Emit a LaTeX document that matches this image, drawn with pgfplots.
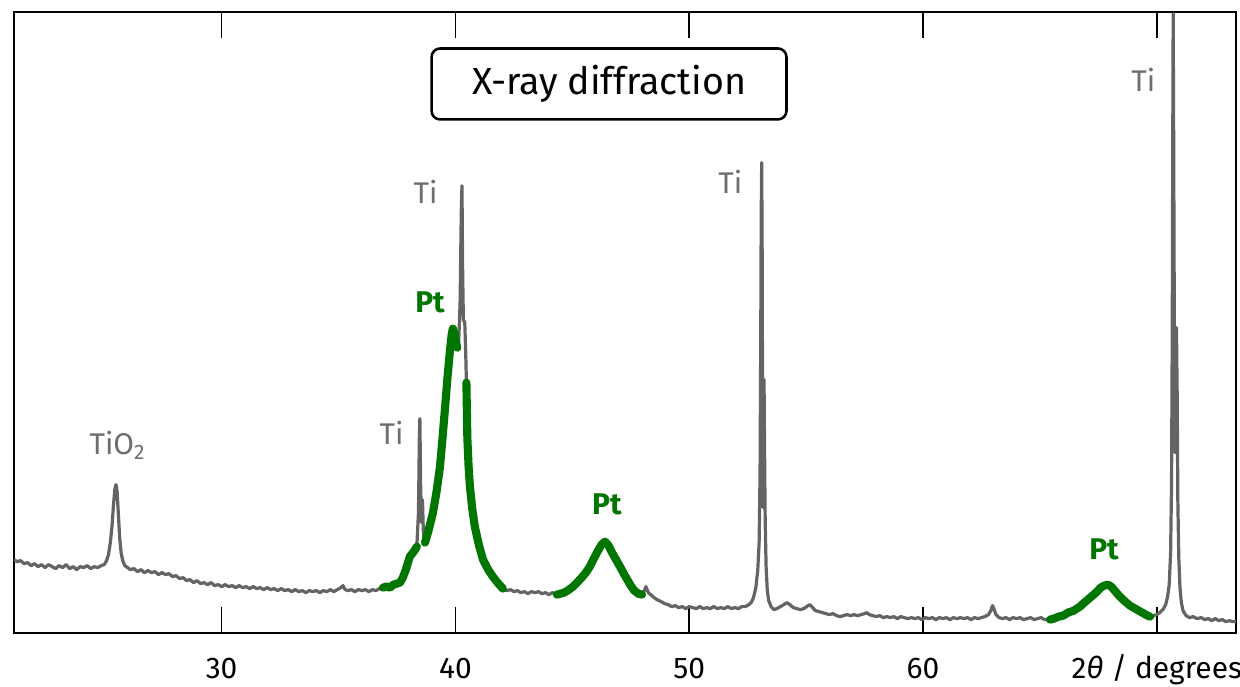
\documentclass[border=0pt]{standalone}
\usepackage{pgfplots}
\pgfplotsset{compat=1.18}
\usepackage{fontspec}
\setmainfont{Fira Sans}
\definecolor{xgray}{RGB}{100,100,100}
\definecolor{tgray}{RGB}{110,110,110}
\definecolor{xgreen}{RGB}{0,118,0}
\begin{document}
\begin{tikzpicture}
\useasboundingbox (0,0) rectangle (580pt,321.3pt);
\begin{axis}[
 at={(6.55pt,25.4pt)}, anchor=south west,
 scale only axis, width=571.5pt, height=290.3pt,
 xmin=21.12, xmax=73.38, ymin=0, ymax=620.7,
 xtick={30,40,50,60,70},
 xticklabels={30,40,50,60,{2\textit{θ} / degrees}},
 ytick=\empty,
 tick align=inside, xtick pos=both, xticklabel pos=bottom,
 major tick length=12pt,
 every tick/.style={black, line width=0.8pt},
 axis line style={line width=1pt},
 xticklabel style={font=\fontsize{14}{16}\selectfont, text height=9.6pt, text depth=0pt, anchor=north, yshift=-8.5pt},
 /pgf/number format/assume math mode=true,
]
\addplot[xgray, line width=1.5pt, line join=round] coordinates {
(21.12,73) (21.25,71) (21.40,72) (21.55,69) (21.70,70) (21.85,67) (22.00,69) (22.15,66) (22.30,68) (22.45,65)
(22.60,68) (22.75,66) (22.90,64) (23.05,67) (23.20,65) (23.35,68) (23.50,64) (23.65,66) (23.80,63) (23.95,66)
(24.10,65) (24.25,67) (24.40,64) (24.55,66) (24.70,65) (24.85,67) (24.98,68) (25.08,72) (25.16,78) (25.24,90)
(25.31,106) (25.37,126) (25.43,143) (25.48,148) (25.53,141) (25.58,120) (25.64,95) (25.70,80) (25.77,72) (25.86,67)
(25.98,65) (26.10,63) (26.25,64) (26.40,61) (26.55,63) (26.70,60) (26.85,62) (27.00,60) (27.15,61) (27.30,58)
(27.45,60) (27.60,58) (27.75,59) (27.90,56) (28.05,57) (28.20,54) (28.35,55) (28.50,52) (28.65,53) (28.80,50)
(28.95,52) (29.10,49) (29.25,50) (29.40,48) (29.55,50) (29.70,47) (29.85,48) (30.00,46) (30.15,48) (30.30,46)
(30.45,47) (30.60,45) (30.75,47) (30.90,45) (31.05,46) (31.20,44) (31.35,46) (31.50,44) (31.65,45) (31.80,43)
(31.95,45) (32.10,43) (32.25,44) (32.40,42) (32.55,44) (32.70,42) (32.85,43) (33.00,41) (33.15,43) (33.30,41)
(33.45,42) (33.60,40) (33.75,42) (33.90,41) (34.05,42) (34.20,40) (34.35,42) (34.50,41) (34.65,43) (34.80,41)
(34.95,43) (35.10,45) (35.19,47) (35.28,43) (35.40,42) (35.55,43) (35.70,41) (35.85,43) (36.00,42) (36.15,43)
(36.30,41) (36.45,43) (36.60,42) (36.75,44) (36.90,45) (37.05,46) (37.20,45) (37.35,48) (37.50,49) (37.63,50)
(37.75,55) (37.88,63) (37.97,70) (38.05,76) (38.15,79) (38.25,82) (38.35,86) (38.42,120) (38.46,200) (38.48,214)
(38.51,150) (38.55,110) (38.59,133) (38.63,100) (38.70,90) (38.85,102) (39.04,120) (39.20,142) (39.34,166) (39.45,195)
(39.55,223) (39.66,255) (39.77,283) (39.84,298) (39.89,304) (39.95,300) (40.02,290) (40.08,285) (40.14,290) (40.20,330)
(40.25,420) (40.28,447) (40.31,360) (40.34,313) (40.40,310) (40.44,280) (40.47,250) (40.51,195) (40.56,168) (40.62,146)
(40.72,124) (40.83,106) (41.00,88) (41.18,73) (41.40,63) (41.60,56) (41.80,50) (42.03,44) (42.20,42) (42.35,43)
(42.50,41) (42.65,42) (42.80,40) (42.95,41) (43.10,39) (43.25,41) (43.40,40) (43.55,41) (43.70,39) (43.85,40)
(44.00,38) (44.15,40) (44.34,38) (44.50,39) (44.65,40) (44.80,42) (45.03,46) (45.20,50) (45.40,55) (45.58,60)
(45.75,66) (45.92,74) (46.10,82) (46.25,88) (46.40,91) (46.55,87) (46.70,80) (46.87,73) (47.04,66) (47.20,59)
(47.35,53) (47.50,47) (47.65,42) (47.82,39) (47.98,38) (48.08,42) (48.15,46) (48.25,40) (48.35,38) (48.50,35)
(48.62,33) (48.80,31) (48.95,29) (49.10,28) (49.25,26) (49.40,27) (49.55,25) (49.70,26) (49.85,24) (50.00,26)
(50.15,25) (50.30,24) (50.45,26) (50.60,24) (50.76,25) (50.90,24) (51.05,26) (51.20,24) (51.35,25) (51.50,24)
(51.65,26) (51.80,24) (51.95,25) (52.10,24) (52.25,26) (52.40,26) (52.55,28) (52.65,30) (52.75,35) (52.85,45)
(52.93,62) (52.99,90) (53.03,160) (53.06,300) (53.08,420) (53.10,470) (53.12,380) (53.14,200) (53.16,125) (53.18,180)
(53.20,253) (53.22,190) (53.25,110) (53.29,65) (53.34,42) (53.40,32) (53.50,26) (53.62,23) (53.75,24) (53.90,26)
(54.05,28) (54.18,30) (54.30,28) (54.45,25) (54.60,24) (54.75,23) (54.90,24) (55.02,26) (55.16,28) (55.28,25)
(55.40,22) (55.55,21) (55.70,20) (55.85,19) (56.00,18) (56.15,19) (56.30,17) (56.45,16) (56.60,17) (56.75,18)
(56.90,17) (57.05,18) (57.20,17) (57.35,18) (57.50,19) (57.60,20) (57.70,18) (57.85,17) (58.00,16) (58.15,17)
(58.30,15) (58.45,16) (58.60,15) (58.75,16) (58.90,14) (59.05,16) (59.20,15) (59.35,14) (59.50,15) (59.65,14)
(59.80,15) (59.95,13) (60.10,15) (60.25,14) (60.40,15) (60.55,13) (60.70,15) (60.85,14) (61.00,15) (61.15,13)
(61.30,15) (61.45,14) (61.60,15) (61.75,14) (61.90,15) (62.05,13) (62.20,15) (62.35,14) (62.50,15) (62.65,16)
(62.80,18) (62.90,22) (62.97,27) (63.03,24) (63.12,18) (63.25,15) (63.40,14) (63.55,15) (63.70,13) (63.85,15)
(64.00,14) (64.15,15) (64.30,13) (64.45,14) (64.60,15) (64.75,13) (64.90,14) (65.05,15) (65.20,13) (65.43,13)
(65.60,14) (65.80,16) (66.00,17) (66.20,20) (66.45,22) (66.71,26) (66.90,30) (67.10,34) (67.30,38) (67.44,41)
(67.60,45) (67.75,47) (67.91,48) (68.05,46) (68.20,42) (68.38,37) (68.55,33) (68.70,30) (68.85,27) (69.00,25)
(69.15,23) (69.30,21) (69.45,19) (69.60,17) (69.71,16) (69.85,17) (70.00,18) (70.12,20) (70.26,23) (70.38,28)
(70.46,36) (70.53,48) (70.59,80) (70.63,150) (70.66,300) (70.68,480) (70.70,619) (70.72,500) (70.75,300) (70.78,180)
(70.81,200) (70.84,305) (70.87,240) (70.90,130) (70.94,75) (70.99,45) (71.05,30) (71.12,22) (71.25,17) (71.40,15)
(71.55,16) (71.72,14) (71.90,15) (72.05,13) (72.20,14) (72.35,12) (72.50,14) (72.65,12) (72.80,13) (72.95,11)
(73.10,12) (73.25,11) (73.38,11)
};
\pgfplotsset{pt/.style={xgreen, line width=3.8pt, line cap=round, line join=round}}
\addplot[pt] coordinates {
(36.90,45) (37.05,46) (37.20,45) (37.35,48) (37.50,49) (37.63,50) (37.75,55) (37.88,63) (37.97,70) (38.05,76)
(38.15,79) (38.25,82) (38.35,86)
};
\addplot[pt] coordinates {
(38.70,90) (38.85,102) (39.04,120) (39.20,142) (39.34,166) (39.45,195) (39.55,223) (39.66,255) (39.77,283) (39.84,298)
(39.89,304) (39.95,300) (40.02,290) (40.08,285)
};
\addplot[pt] coordinates {
(40.47,250) (40.51,195) (40.56,168) (40.62,146) (40.72,124) (40.83,106) (41.00,88) (41.18,73) (41.40,63) (41.60,56)
(41.80,50) (42.03,44)
};
\addplot[pt] coordinates {
(44.34,38) (44.50,39) (44.65,40) (44.80,42) (45.03,46) (45.20,50) (45.40,55) (45.58,60) (45.75,66) (45.92,74)
(46.10,82) (46.25,88) (46.40,91) (46.55,87) (46.70,80) (46.87,73) (47.04,66) (47.20,59) (47.35,53) (47.50,47)
(47.65,42) (47.82,39) (47.98,38)
};
\addplot[pt] coordinates {
(65.43,13) (65.60,14) (65.80,16) (66.00,17) (66.20,20) (66.45,22) (66.71,26) (66.90,30) (67.10,34) (67.30,38)
(67.44,41) (67.60,45) (67.75,47) (67.91,48) (68.05,46) (68.20,42) (68.38,37) (68.55,33) (68.70,30) (68.85,27)
(69.00,25) (69.15,23) (69.30,21) (69.45,19) (69.60,17) (69.71,16)
};
\tikzset{ti/.style={text=tgray, font=\fontsize{14}{16}\selectfont, anchor=base, inner sep=0pt},
         ptl/.style={text=xgreen, font=\fontsize{14}{16}\selectfont\bfseries, anchor=base, inner sep=0pt}}
\node[ti] at (axis cs:25.55,177.7) {TiO\textsubscript{2}};
\node[ti] at (axis cs:37.27,187.7) {Ti};
\node[ti] at (axis cs:38.72,429.4) {Ti};
\node[ti] at (axis cs:51.76,439.4) {Ti};
\node[ti] at (axis cs:69.42,540.7) {Ti};
\node[ptl] at (axis cs:38.91,320.4) {Pt};
\node[ptl] at (axis cs:46.48,117.7) {Pt};
\node[ptl] at (axis cs:67.74,72.7) {Pt};
\node[draw=black, line width=1.2pt, rounded corners=4pt, fill=white, minimum width=166pt, minimum height=33.2pt,
      font=\fontsize{17.6}{20}\selectfont, inner sep=0pt] at (axis cs:46.57,548.7) {X-ray diffraction};
\end{axis}
\end{tikzpicture}
\end{document}
